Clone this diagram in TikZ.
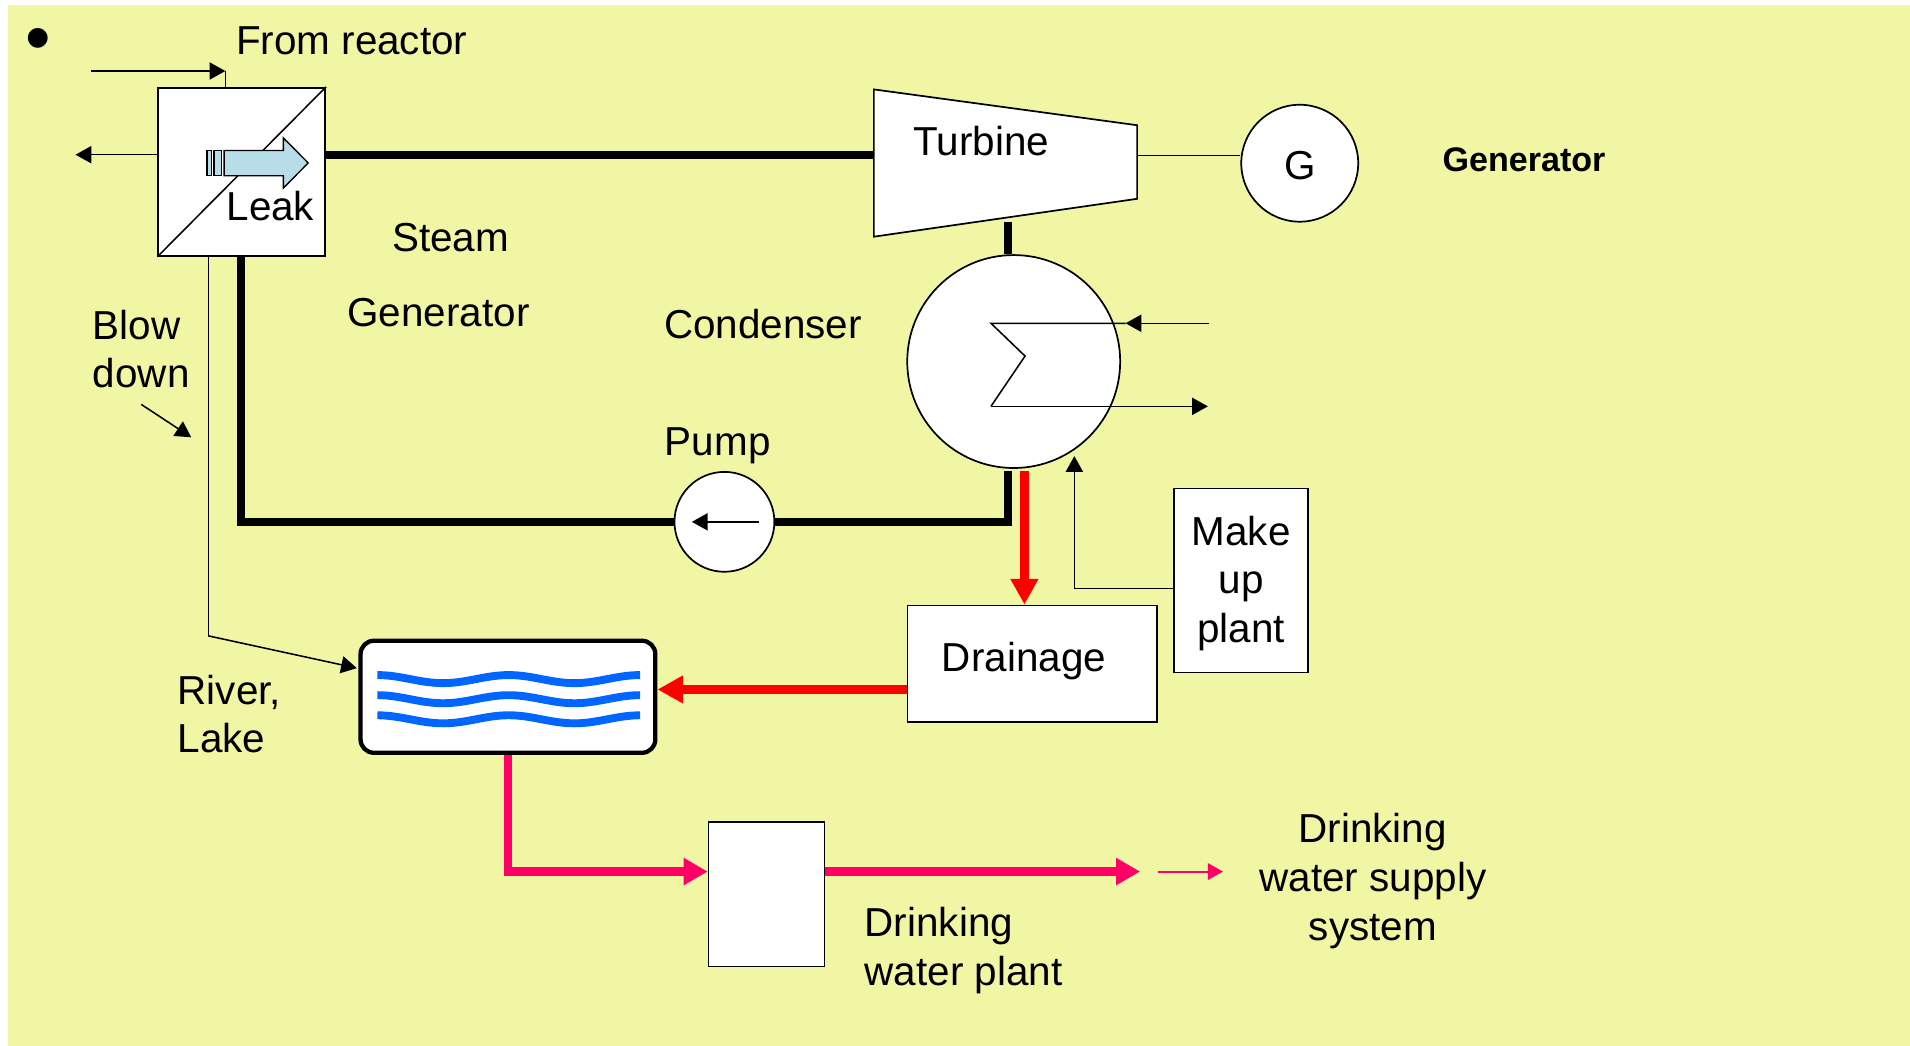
\documentclass[tikz,border=0pt]{standalone}
\usepackage{fontspec}
\setmainfont{Liberation Sans}
\usetikzlibrary{arrows.meta,calc}
\definecolor{bgyel}{RGB}{240,246,164}
\definecolor{leakblue}{RGB}{183,222,232}
\definecolor{wavecol}{RGB}{0,102,255}
\definecolor{pinkline}{RGB}{255,0,102}
\newcommand\pxl{0.025cm}
\begin{document}
\begin{tikzpicture}[x=0.025cm,y=-0.025cm,
  lbl/.style={font=\fontsize{23.6pt}{28pt}\selectfont, inner sep=0pt, anchor=base west},
  clbl/.style={lbl, anchor=base},
  boldlbl/.style={font=\fontsize{19.9pt}{24pt}\selectfont\bfseries, inner sep=0pt, anchor=base west},
  box/.style={draw, fill=white, line width=1pt, inner sep=0pt},
  thinl/.style={line width=0.9pt},
  thinarrow/.style={line width=0.9pt, -{Triangle[length=9.2pt,width=10pt]}},
  pipe/.style={line width=4.6pt},
  redarrow/.style={line width=5.2pt, red, -{Triangle[length=15pt,width=15.4pt]}},
  pinkarrow/.style={line width=5pt, pinkline, -{Triangle[length=14pt,width=15pt]}},
  smallpink/.style={line width=1.2pt, pinkline, -{Triangle[length=8.9pt,width=9.7pt]}},
  wavy/.style={line width=4.6pt, wavecol},
  leakstyle/.style={draw, fill=leakblue, line width=0.8pt}
]
\useasboundingbox (0,0) rectangle (1568,858.7);
\fill[bgyel] (6.5,4) rectangle (1568,858.7);

% bullet and title
\node[font=\fontsize{42.5pt}{48pt}\selectfont, inner sep=0pt, anchor=base] (bullet) at (31,51.5) {•};
\node[lbl] (fromreactor) at (193.5,44.5) {From reactor};

% steam generator
\node[box, minimum width=137*\pxl, minimum height=138*\pxl] (sg) at (198.5,141) {};
\draw[thinl] (sg.south west) -- (sg.north east);

% leak arrow
\draw[leakstyle] (170,123.6) rectangle (173.8,144.3);
\draw[leakstyle] (175.7,123.6) rectangle (182,144.3);
\draw[leakstyle] (184,123.6) -- (232.6,123.6) -- (232.6,113.2) -- (253,133.8)
   -- (232.6,154.4) -- (232.6,144.3) -- (184,144.3) -- cycle;
\node[lbl] (leak) at (185.7,181) {Leak};

% reactor inlet and outlet arrows
\coordinate (rin0) at (74.6,58.3);
\coordinate (rin) at (185,58.3);
\draw[thinarrow] (rin0) -- (rin);
\draw[thinl] (rin) -- (rin |- sg.north);
\coordinate (outL) at (62,127);
\draw[thinarrow] (outL -| sg.west) -- (outL);

% turbine
\coordinate (t1) at (717.4,73.4);
\coordinate (t2) at (933.5,102.8);
\coordinate (t3) at (933.5,163.2);
\coordinate (t4) at (717.4,194.3);
\draw[fill=white, line width=1pt] (t1) -- (t2) -- (t3) -- (t4) -- cycle;
\node[lbl] (turbine) at (749.7,127.5) {Turbine};

% steam line
\coordinate (tin) at (717.4,127);
\draw[pipe] (tin -| sg.east) -- (tin);

% generator
\node[box, circle, minimum size=96*\pxl] (gen) at (1067,134) {};
\node[clbl] (G) at (1067,147) {G};
\coordinate (tout) at (933.5,127.5);
\draw[thinl] (tout) -- (tout -| gen.west);
\node[boldlbl] (genlabel) at (1184,141) {Generator};

% condenser
\node[box, circle, minimum size=174.8*\pxl] (cond) at (832.2,296.8) {};
\coordinate (tb) at (827.3,182.5);
\draw[pipe] (tb) -- (tb |- cond.north);
\coordinate (z1) at (813.5,265.4);
\coordinate (z2) at (841.5,292.3);
\coordinate (z3) at (813.5,333.6);
\coordinate (cinT) at (924,265.4);
\coordinate (cin) at (992.3,265.4);
\coordinate (cout) at (991.6,333.6);
\draw[thinl] (cinT) -- (z1) -- (z2) -- (z3);
\draw[thinarrow] (z3) -- (cout);
\draw[thinarrow] (cin) -- (cinT);
\node[lbl] (condenser) at (545,278) {Condenser};

% labels steam generator
\node[lbl] (steam) at (321.7,206.6) {Steam};
\node[lbl] (sggen) at (285,268) {Generator};

% pump loop
\node[box, circle, minimum size=82*\pxl] (pump) at (594.7,428.4) {};
\coordinate (cb) at (827.6,387);
\coordinate (loopR) at (827.6,428.4);
\coordinate (loopL) at (198,428.4);
\draw[pipe] (cb) -- (loopR) -- (pump.east);
\draw[pipe] (pump.west) -- (loopL) -- (loopL |- sg.south);
\coordinate (pa1) at (623,428.4);
\coordinate (pa2) at (568,428.4);
\draw[thinarrow] (pa1) -- (pa2);
\node[lbl] (pumplabel) at (545.6,373.6) {Pump};

% drainage and make-up plant
\node[box, minimum width=205*\pxl, minimum height=96*\pxl] (drain) at (847.5,545) {};
\node[lbl] (drainlabel) at (773,551.5) {Drainage};
\node[box, minimum width=110*\pxl, minimum height=151*\pxl] (makeup) at (1019,476.5) {};
\node[clbl] (mk1) at (1019,447.5) {Make};
\node[clbl] (mk2) at (1019,487.5) {up};
\node[clbl] (mk3) at (1019,527.5) {plant};
\coordinate (rtop) at (841,387);
\draw[redarrow] (rtop) -- (rtop |- drain.north);
\coordinate (mk) at (882,483);
\coordinate (mu) at (882,374.4);
\draw[thinarrow] (mk -| makeup.west) -- (mk) -- (mu);

% river / lake
\node[draw, fill=white, line width=2.5pt, rounded corners=0.275cm, minimum width=242*\pxl, minimum height=92*\pxl, inner sep=0pt] (lake) at (417,572) {};
\foreach \c in {557.5,574,590.5}{
  \draw[wavy] plot[domain=309.8:525.5, samples=80] (\x, {\c - 3.3*cos(3.338*(\x-309.8))});
}
\coordinate (dl) at (745,566);
\draw[redarrow] (dl -| drain.west) -- (dl -| lake.east);
\node[lbl] (river) at (145.6,578) {River,};
\node[lbl] (lakelabel) at (145.6,618) {Lake};

% blow down
\coordinate (bd1) at (171,522);
\coordinate (bdT) at (293,548.5);
\draw[thinl] (bd1 |- sg.south) -- (bd1);
\draw[thinarrow] (bd1) -- (bdT);
\node[lbl] (blow) at (76,279) {Blow};
\node[lbl] (down) at (76,318) {down};
\coordinate (ba1) at (116,332);
\coordinate (ba2) at (157,359);
\draw[thinarrow] (ba1) -- (ba2);

% drinking water
\node[box, minimum width=95.2*\pxl, minimum height=118.8*\pxl] (dwp) at (629.3,734) {};
\coordinate (pk) at (417,715.5);
\draw[pinkarrow] (lake.south) -- (pk) -- (pk -| dwp.west);
\coordinate (pe) at (936,715.5);
\draw[pinkarrow] (pe -| dwp.east) -- (pe);
\coordinate (sp1) at (951,715.5);
\coordinate (sp2) at (1004,715.5);
\draw[smallpink] (sp1) -- (sp2);
\node[lbl] (dw1) at (709.6,769) {Drinking};
\node[lbl] (dw2) at (709.6,809) {water plant};
\node[clbl] (ds1) at (1127,691.5) {Drinking};
\node[clbl] (ds2) at (1127,731.5) {water supply};
\node[clbl] (ds3) at (1127,772) {system};
\end{tikzpicture}
\end{document}
